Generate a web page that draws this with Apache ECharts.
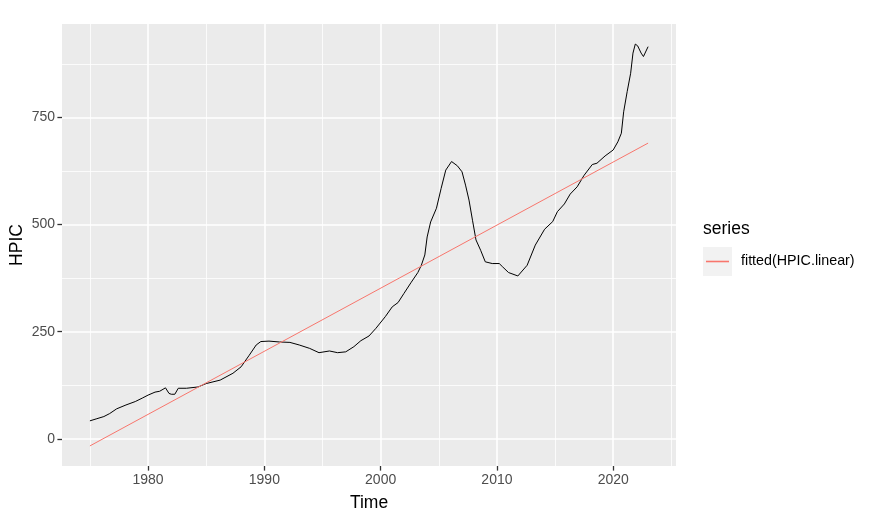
<!DOCTYPE html>
<html>
<head>
<meta charset="utf-8">
<script src="https://cdn.jsdelivr.net/npm/echarts@6/dist/echarts.min.js"></script>
<style>
html,body{margin:0;padding:0;background:#fff;}
#chart{width:873px;height:528px;}
</style>
</head>
<body>
<div id="chart"></div>
<script>
// ---- data ----
const hpicTime = [1975.0,1975.6,1976.2,1976.7,1977.3,1978.1,1978.9,1979.5,1980.0,1980.6,1981.0,1981.5,1981.8,1982.0,1982.3,1982.6,1983.3,1984.3,1985.0,1986.2,1987.3,1988.0,1988.7,1989.3,1989.7,1990.4,1991.3,1992.2,1993.0,1993.9,1994.7,1995.6,1996.3,1997.0,1997.7,1998.3,1999.0,1999.6,2000.4,2001.0,2001.5,2002.0,2002.6,2003.2,2003.5,2003.8,2004.0,2004.3,2004.8,2005.2,2005.6,2006.1,2006.6,2007.0,2007.3,2007.6,2007.9,2008.2,2008.6,2009.0,2009.6,2010.2,2010.5,2011.0,2011.8,2012.6,2013.3,2014.1,2014.8,2015.2,2015.8,2016.3,2016.9,2017.5,2018.2,2018.6,2019.3,2020.0,2020.4,2020.7,2020.9,2021.2,2021.5,2021.7,2021.9,2022.1,2022.4,2022.6,2023.0];
const hpicValue = [42,47,52,59,70,79,87,95,102,109,111,119,106,104,104,118,118,121,129,137,153,168,195,219,227,228,226,225,219,211,201,205,201,203,215,229,240,258,285,308,318,339,364,388,405,429,471,506,538,584,627,647,637,623,592,557,510,464,440,413,409,409,401,388,380,405,452,489,507,530,548,571,588,615,640,643,660,674,693,713,763,810,853,900,921,917,900,892,915];
const fittedTime = [1975.0, 2023.0];
const fittedValue = [-16.5, 690];
const xTickLabels = [1980, 1990, 2000, 2010, 2020];
const xMinorBreaks = [1975, 1985, 1995, 2005, 2015, 2025];
const yTickLabels = [0, 250, 500, 750];
const yMinorBreaks = [125, 375, 625, 875];
const seriesName = 'fitted(HPIC.linear)';
const legendTitle = 'series';

// ---- ggplot-like expansion (5%) ----
const allX = hpicTime.concat(fittedTime);
const allY = hpicValue.concat(fittedValue);
const xlo = Math.min(...allX), xhi = Math.max(...allX);
const ylo = Math.min(...allY), yhi = Math.max(...allY);
const xMin = xlo - 0.05 * (xhi - xlo), xMax = xhi + 0.05 * (xhi - xlo);
const yMin = ylo - 0.05 * (yhi - ylo), yMax = yhi + 0.05 * (yhi - ylo);

const FONT = '"Liberation Sans", Arial, sans-serif';
const PINK = '#F8766D';

const gridLines = [];
xTickLabels.forEach(v => gridLines.push({xAxis: v, lineStyle: {width: 1.6}}));
xMinorBreaks.forEach(v => gridLines.push({xAxis: v, lineStyle: {width: 0.8}}));
yTickLabels.forEach(v => gridLines.push({yAxis: v, lineStyle: {width: 1.6}}));
yMinorBreaks.forEach(v => gridLines.push({yAxis: v, lineStyle: {width: 0.8}}));

const svgIcon = "<svg xmlns='http://www.w3.org/2000/svg' width='29' height='29'>" +
  "<rect width='29' height='29' fill='#F2F2F2'/>" +
  "<line x1='3' y1='14.5' x2='26' y2='14.5' stroke='" + PINK + "' stroke-width='1.6'/></svg>";
const iconUrl = 'image://data:image/svg+xml;charset=utf-8,' + encodeURIComponent(svgIcon);

const chart = echarts.init(document.getElementById('chart'), null, {renderer: 'canvas'});
chart.setOption({
  animation: false,
  textStyle: {fontFamily: FONT},
  title: {
    text: legendTitle, left: 703, top: 220, padding: 0,
    textStyle: {fontFamily: FONT, fontSize: 17.5, fontWeight: 'normal', color: '#000'}
  },
  legend: {
    left: 703, top: 247, padding: 0, orient: 'vertical',
    itemWidth: 29, itemHeight: 29, selectedMode: false,
    data: [{name: seriesName, icon: iconUrl}],
    textStyle: {fontFamily: FONT, fontSize: 14.3, color: '#000', padding: [0, 0, 0, 4]}
  },
  grid: {
    left: 62, right: 197, top: 24, bottom: 62,
    containLabel: false, outerBoundsMode: 'none',
    show: true, backgroundColor: '#EBEBEB', borderWidth: 0
  },
  xAxis: {
    type: 'value', min: xMin, max: xMax,
    name: 'Time', nameLocation: 'middle', nameGap: 28, nameMoveOverlap: false,
    nameTextStyle: {fontFamily: FONT, fontSize: 17.5, color: '#000'},
    axisLine: {show: false, onZero: false},
    axisTick: {show: true, length: 4.6, customValues: xTickLabels, lineStyle: {color: '#333333', width: 1.3}},
    axisLabel: {customValues: xTickLabels, margin: 7, fontFamily: FONT, fontSize: 14, color: '#4D4D4D',
      formatter: v => String(v)},
    splitLine: {show: false}
  },
  yAxis: {
    type: 'value', min: yMin, max: yMax,
    name: 'HPIC', nameLocation: 'middle', nameGap: 45, nameRotate: 90, nameMoveOverlap: false,
    nameTextStyle: {fontFamily: FONT, fontSize: 17.5, color: '#000', verticalAlign: 'middle'},
    axisLine: {show: false, onZero: false},
    axisTick: {show: true, length: 4.6, customValues: yTickLabels, lineStyle: {color: '#333333', width: 1.3}},
    axisLabel: {customValues: yTickLabels, margin: 7, fontFamily: FONT, fontSize: 14, color: '#4D4D4D',
      formatter: v => String(v)},
    splitLine: {show: false}
  },
  series: [
    {
      name: '__grid', type: 'line', data: [], z: 1, silent: true,
      markLine: {
        z: 1, silent: true, symbol: 'none', animation: false,
        label: {show: false},
        lineStyle: {color: '#FFFFFF', type: 'solid'},
        emphasis: {disabled: true},
        data: gridLines
      }
    },
    {
      name: 'HPIC', type: 'line', z: 3, showSymbol: false, silent: true,
      data: hpicTime.map((t, i) => [t, hpicValue[i]]),
      lineStyle: {color: '#000000', width: 1},
      itemStyle: {color: '#000000'}
    },
    {
      name: seriesName, type: 'line', z: 3, showSymbol: false, silent: true,
      data: fittedTime.map((t, i) => [t, fittedValue[i]]),
      lineStyle: {color: PINK, width: 1},
      itemStyle: {color: PINK}
    }
  ]
});
</script>
</body>
</html>
